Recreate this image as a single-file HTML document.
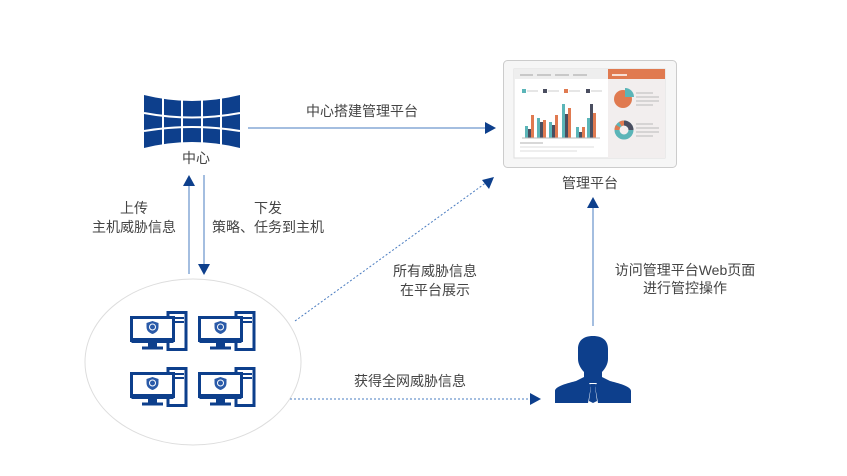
<!DOCTYPE html>
<html><head><meta charset="utf-8"><style>
html,body{margin:0;padding:0;background:#fff;width:847px;height:476px;overflow:hidden}
svg{display:block}
text{font-family:"Liberation Sans","Noto Sans CJK SC",sans-serif;font-size:14px;fill:#444}
</style></head><body>
<svg width="847" height="476" viewBox="0 0 847 476" xmlns="http://www.w3.org/2000/svg">
<defs>
<g id="pc">
  <rect x="38" y="1.5" width="18" height="37" fill="#fff" stroke="#0d3f8c" stroke-width="3"/>
  <line x1="44" y1="7" x2="54" y2="7" stroke="#0d3f8c" stroke-width="2"/>
  <line x1="44" y1="11" x2="54" y2="11" stroke="#0d3f8c" stroke-width="2"/>
  <rect x="1.5" y="6.5" width="42" height="23" fill="#fff" stroke="#0d3f8c" stroke-width="3"/>
  <rect x="1.5" y="27" width="42" height="5" fill="#0d3f8c"/>
  <rect x="18" y="32" width="9" height="4" fill="#0d3f8c"/>
  <rect x="12" y="35.5" width="21" height="3" fill="#0d3f8c"/>
  <path d="M22.5 10 l6 2 v4 c0 4 -3 6 -6 7 c-3 -1 -6 -3 -6 -7 v-4z" fill="#2a5aa8"/>
  <circle cx="22.5" cy="16" r="3" fill="none" stroke="#fff" stroke-width="1"/>
</g>
</defs>

<!-- video wall -->
<path d="M144 95 Q192 107 240 95 L240 148 Q192 136 144 148 Z" fill="#0d3f8c"/>
<g stroke="#fff" stroke-width="2" fill="none">
  <line x1="163" y1="95" x2="163" y2="150"/>
  <line x1="182" y1="95" x2="182" y2="150"/>
  <line x1="202" y1="95" x2="202" y2="150"/>
  <line x1="221" y1="95" x2="221" y2="150"/>
  <path d="M144 113 Q192 122 240 113"/>
  <path d="M144 131 Q192 123 240 131"/>
</g>
<text x="196" y="163" text-anchor="middle">中心</text>

<!-- top arrow -->
<line x1="248" y1="128" x2="488" y2="128" stroke="#4a7cc0" stroke-width="1"/>
<path d="M496 128 L485 122 L485 134Z" fill="#0d3f8c"/>
<text x="362" y="116" text-anchor="middle">中心搭建管理平台</text>

<!-- monitor -->
<rect x="503.5" y="60.5" width="173" height="107" rx="4" fill="#f6f6f6" stroke="#ccc"/>
<rect x="514" y="69" width="151" height="89" fill="#fff" stroke="#ddd"/>
<rect x="514" y="69" width="94" height="10" fill="#eee"/>
<rect x="608" y="69" width="57" height="10" fill="#e07a50"/>
<rect x="608" y="79" width="57" height="79" fill="#f2eeee"/>
<g stroke="#bbb" stroke-width="1.5"><line x1="520" y1="75" x2="533" y2="75"/><line x1="537" y1="75" x2="551" y2="75"/><line x1="555" y1="75" x2="569" y2="75"/><line x1="573" y1="75" x2="587" y2="75"/></g>
<line x1="612" y1="75" x2="627" y2="75" stroke="#fff" stroke-width="1.5"/>
<g>
 <rect x="522" y="89" width="4" height="4" fill="#5bb5b8"/><rect x="543" y="89" width="4" height="4" fill="#4a4e60"/><rect x="564" y="89" width="4" height="4" fill="#e07a50"/><rect x="586" y="89" width="4" height="4" fill="#4a4e60"/>
 <g stroke="#ccc"><line x1="527" y1="91" x2="538" y2="91"/><line x1="548" y1="91" x2="559" y2="91"/><line x1="569" y1="91" x2="580" y2="91"/><line x1="591" y1="91" x2="602" y2="91"/></g>
 <rect x="525" y="126" width="3" height="12" fill="#5bb5b8"/><rect x="528" y="129" width="3" height="9" fill="#4a4e60"/><rect x="531" y="115" width="3" height="23" fill="#e07a50"/>
 <rect x="537" y="118" width="3" height="20" fill="#5bb5b8"/><rect x="540" y="122" width="3" height="16" fill="#4a4e60"/><rect x="543" y="120" width="3" height="18" fill="#e07a50"/>
 <rect x="549" y="122" width="3" height="16" fill="#5bb5b8"/><rect x="552" y="125" width="3" height="13" fill="#4a4e60"/><rect x="555" y="115" width="3" height="23" fill="#e07a50"/>
 <rect x="562" y="104" width="3" height="34" fill="#5bb5b8"/><rect x="565" y="114" width="3" height="24" fill="#4a4e60"/><rect x="568" y="108" width="3" height="30" fill="#e07a50"/>
 <rect x="576" y="127" width="3" height="11" fill="#5bb5b8"/><rect x="579" y="132" width="3" height="6" fill="#4a4e60"/><rect x="582" y="127" width="3" height="11" fill="#e07a50"/>
 <rect x="587" y="118" width="3" height="20" fill="#5bb5b8"/><rect x="590" y="104" width="3" height="34" fill="#4a4e60"/><rect x="593" y="113" width="3" height="25" fill="#e07a50"/>
 <line x1="522" y1="138" x2="600" y2="138" stroke="#bbb"/>
 <line x1="520" y1="143" x2="543" y2="143" stroke="#ccc" stroke-width="1.5"/>
 <line x1="520" y1="147" x2="594" y2="147" stroke="#ddd"/>
 <line x1="520" y1="151" x2="577" y2="151" stroke="#ddd"/>
 <circle cx="623" cy="99" r="9" fill="#e07a50"/><path d="M625 88 L625 97 L634 97 A9 9 0 0 0 625 88Z" fill="#5bb5b8"/>
 <circle cx="624" cy="130" r="7" fill="none" stroke="#5bb5b8" stroke-width="5"/>
 <path d="M624 123 A7 7 0 0 1 631 130" fill="none" stroke="#4a4e60" stroke-width="5"/>
 <path d="M617 130 A7 7 0 0 1 624 123" fill="none" stroke="#e07a50" stroke-width="5" stroke-dasharray="4 3"/>
 <g stroke="#ccc" stroke-width="1.5"><line x1="636" y1="93" x2="653" y2="93"/><line x1="636" y1="97" x2="659" y2="97"/><line x1="636" y1="101" x2="659" y2="101"/><line x1="636" y1="105" x2="653" y2="105"/>
 <line x1="636" y1="124" x2="653" y2="124"/><line x1="636" y1="128" x2="659" y2="128"/><line x1="636" y1="132" x2="659" y2="132"/><line x1="636" y1="136" x2="653" y2="136"/></g>
</g>
<text x="590" y="188" text-anchor="middle">管理平台</text>

<!-- vertical arrows -->
<line x1="189" y1="183" x2="189" y2="274" stroke="#4a7cc0"/>
<path d="M189 175 L183 186 L195 186Z" fill="#0d3f8c"/>
<line x1="204" y1="175" x2="204" y2="266" stroke="#4a7cc0"/>
<path d="M204 275 L198 264 L210 264Z" fill="#0d3f8c"/>
<text x="134" y="213" text-anchor="middle">上传</text>
<text x="134" y="232" text-anchor="middle">主机威胁信息</text>
<text x="268" y="213" text-anchor="middle">下发</text>
<text x="268" y="232" text-anchor="middle">策略、任务到主机</text>

<!-- ellipse + pcs -->
<ellipse cx="193" cy="362" rx="108" ry="83" fill="#fff" stroke="#ddd"/>
<use href="#pc" x="130" y="311"/>
<use href="#pc" x="198" y="311"/>
<use href="#pc" x="130" y="367"/>
<use href="#pc" x="198" y="367"/>

<!-- dotted diag -->
<line x1="295" y1="321" x2="487" y2="182" stroke="#4a7cc0" stroke-dasharray="2 2"/>
<path d="M494 177 L482 180 L489 189Z" fill="#0d3f8c"/>
<text x="435" y="276" text-anchor="middle">所有威胁信息</text>
<text x="435" y="295" text-anchor="middle">在平台展示</text>

<!-- dotted horizontal -->
<line x1="290" y1="399" x2="532" y2="399" stroke="#4a7cc0" stroke-dasharray="2 2"/>
<path d="M541 399 L530 393 L530 405Z" fill="#0d3f8c"/>
<text x="410" y="386" text-anchor="middle">获得全网威胁信息</text>

<!-- person -->
<path d="M593 336 c-10 0 -15 5 -15 13 v10 c0 5 3 10 6 13 v5 l-8 4 c-12 3 -21 6 -21 10 v12 h76 v-12 c0 -4 -9 -7 -21 -10 l-8 -4 v-5 c3 -3 6 -8 6 -13 v-10 c0 -8 -5 -13 -15 -13z" fill="#0d3f8c"/>
<path d="M589 383 h8 l-2 3 l3 17 h-10 l3 -17z" fill="#fff"/>
<path d="M590 384 h6 l-1 3 l2 14 l-4 2 l-4 -2 l2 -14z" fill="#0d3f8c"/>

<!-- up arrow -->
<line x1="593" y1="206" x2="593" y2="326" stroke="#4a7cc0"/>
<path d="M593 197 L587 208 L599 208Z" fill="#0d3f8c"/>
<text x="685" y="275" text-anchor="middle">访问管理平台Web页面</text>
<text x="685" y="293" text-anchor="middle">进行管控操作</text>
</svg>
</body></html>
